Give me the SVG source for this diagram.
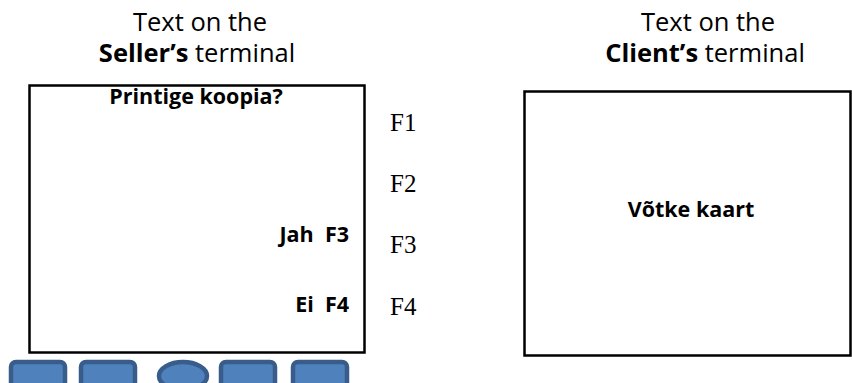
<svg xmlns="http://www.w3.org/2000/svg" width="852" height="383" viewBox="0 0 852 383">
<style>
.title{font-family:"Open Sans","Liberation Sans",sans-serif;font-size:25.5px;fill:#000;text-anchor:middle}
.b{font-weight:bold}
.scr{font-family:"Open Sans","Liberation Sans",sans-serif;font-size:21.5px;font-weight:bold;fill:#000}
.fk{font-family:"Liberation Serif","Times New Roman",serif;font-size:25px;fill:#000}
.box{fill:#fff;stroke:#000;stroke-width:2.5}
.btn{fill:#4f81bd;stroke:#385d8a;stroke-width:4.5}
</style>
<rect width="852" height="383" fill="#fff"/>
<g id="seller-title">
<text class="title" x="200" y="31">Text on the</text>
<text class="title" x="197" y="62"><tspan class="b">Seller’s</tspan> terminal</text>
</g>
<g id="client-title">
<text class="title" x="708" y="31">Text on the</text>
<text class="title" x="705" y="62"><tspan class="b">Client’s</tspan> terminal</text>
</g>
<g id="seller-screen">
<rect class="box" x="29.5" y="85.5" width="335" height="267"/>
<text class="scr" x="196" y="103.5" text-anchor="middle">Printige koopia?</text>
<text class="scr" x="349" y="242" text-anchor="end" xml:space="preserve">Jah  F3</text>
<text class="scr" x="349" y="312" text-anchor="end" xml:space="preserve">Ei  F4</text>
</g>
<g id="function-keys">
<text class="fk" x="390" y="131">F1</text>
<text class="fk" x="390" y="192">F2</text>
<text class="fk" x="390" y="253">F3</text>
<text class="fk" x="390" y="315">F4</text>
</g>
<g id="client-screen">
<rect class="box" x="524.5" y="91.5" width="326" height="264"/>
<text class="scr" x="691" y="217" text-anchor="middle">Võtke kaart</text>
</g>
<g id="keypad">
<rect class="btn" x="11" y="362" width="54" height="26" rx="5"/>
<rect class="btn" x="81" y="362" width="54" height="26" rx="5"/>
<ellipse class="btn" cx="183" cy="376" rx="24" ry="14"/>
<rect class="btn" x="221" y="362" width="54" height="26" rx="5"/>
<rect class="btn" x="293" y="362" width="54" height="26" rx="5"/>
</g>
<g id="connectors"/>
</svg>
